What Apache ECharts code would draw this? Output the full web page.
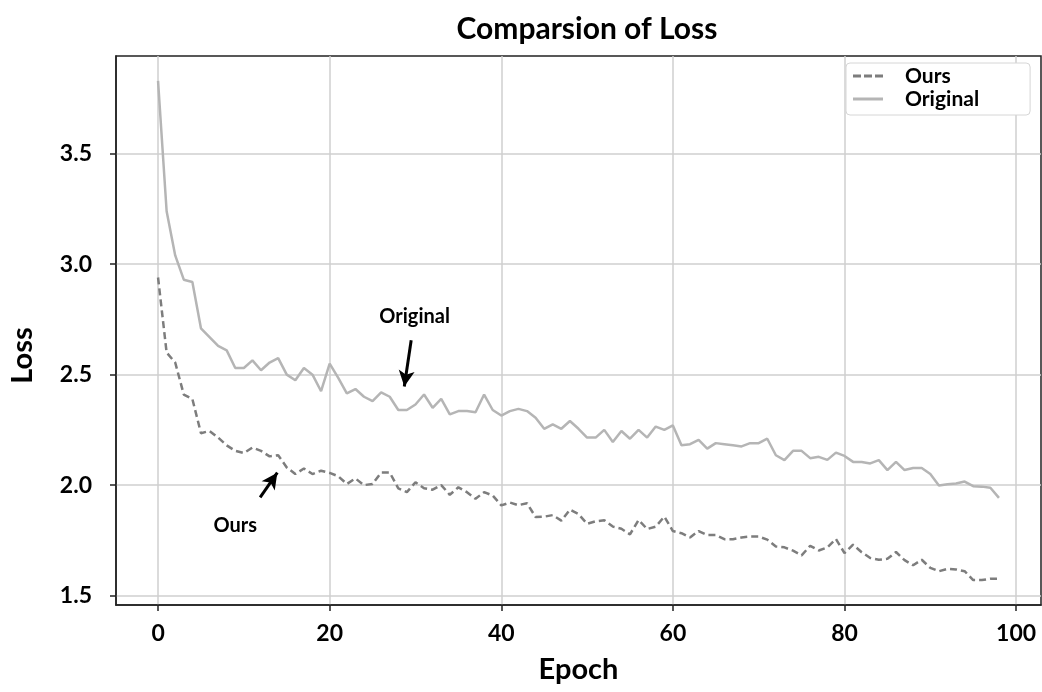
<!DOCTYPE html>
<html>
<head>
<meta charset="utf-8">
<title>Comparsion of Loss</title>
<script src="https://cdn.jsdelivr.net/npm/echarts@6/dist/echarts.min.js"></script>
<style>
html, body { margin: 0; padding: 0; background: #fff; }
#chart { width: 1042px; height: 692px; }
</style>
</head>
<body>
<div id="chart"></div>
<script>
// loss per epoch (0..98)
var ours = [
	2.94, 2.60, 2.555, 2.41, 2.39, 2.235, 2.245, 2.215, 2.18, 2.155,
	2.145, 2.17, 2.155, 2.13, 2.135, 2.08, 2.05, 2.075, 2.05, 2.065,
	2.055, 2.04, 2.005, 2.03, 2.0, 2.005, 2.057, 2.057, 1.985, 1.968,
	2.013, 1.986, 1.979, 2.0, 1.956, 1.99, 1.968, 1.938, 1.968, 1.953,
	1.908, 1.921, 1.909, 1.918, 1.855, 1.857, 1.864, 1.839, 1.889, 1.869,
	1.825, 1.836, 1.841, 1.812, 1.802, 1.777, 1.842, 1.801, 1.812, 1.857,
	1.792, 1.782, 1.763, 1.792, 1.774, 1.774, 1.755, 1.755, 1.763, 1.767,
	1.767, 1.753, 1.722, 1.718, 1.703, 1.682, 1.725, 1.704, 1.718, 1.756,
	1.692, 1.73, 1.696, 1.67, 1.662, 1.666, 1.697, 1.66, 1.637, 1.662,
	1.625, 1.61, 1.621, 1.618, 1.61, 1.57, 1.57, 1.576, 1.576
];
var original = [
	3.83, 3.24, 3.04, 2.93, 2.92, 2.71, 2.67, 2.63, 2.61, 2.53,
	2.53, 2.565, 2.52, 2.555, 2.575, 2.50, 2.475, 2.53, 2.50, 2.425,
	2.55, 2.485, 2.415, 2.435, 2.40, 2.38, 2.42, 2.40, 2.34, 2.34,
	2.365, 2.41, 2.35, 2.39, 2.32, 2.335, 2.335, 2.33, 2.41, 2.34,
	2.315, 2.335, 2.345, 2.335, 2.305, 2.255, 2.275, 2.255, 2.29, 2.255,
	2.215, 2.215, 2.25, 2.195, 2.245, 2.21, 2.25, 2.215, 2.265, 2.25,
	2.27, 2.18, 2.185, 2.205, 2.165, 2.19, 2.185, 2.18, 2.175, 2.19,
	2.19, 2.21, 2.135, 2.113, 2.155, 2.155, 2.122, 2.128, 2.114, 2.147,
	2.132, 2.105, 2.105, 2.098, 2.113, 2.068, 2.105, 2.068, 2.077, 2.077,
	2.05, 1.998, 2.004, 2.007, 2.016, 1.995, 1.993, 1.988, 1.942
];
var xTicks = [0, 20, 40, 60, 80, 100];
var yTicks = [1.5, 2.0, 2.5, 3.0, 3.5];

// annotation arrows, in data coordinates [epoch, loss]
var origArrow = [[29.5, 2.656], [28.7, 2.446]];
var oursArrow = [[11.9, 1.944], [13.9, 2.056]];
var origLabelAt = [29.9, 2.765];
var oursLabelAt = [9.0, 1.818];

var FONT = 'Lato, "Open Sans", sans-serif';
var OURS_COLOR = '#7d7d7d';
var ORIG_COLOR = '#b5b5b5';

// legend handles: dashed and solid strokes
var DASH_ICON = 'path://M0,0h8v3h-8zM11,0h8v3h-8zM22,0h8v3h-8z';
var SOLID_ICON = 'path://M0,0h30v3h-30z';

var chart = echarts.init(document.getElementById('chart'));

function pairs(arr) {
	return arr.map(function (v, i) { return [i, v]; });
}

function note(at, text) {
	return {
		coord: at,
		symbol: 'circle',
		symbolSize: 0,
		label: {
			show: true,
			position: 'inside',
			formatter: text,
			color: '#000',
			fontFamily: FONT,
			fontWeight: 'bold',
			fontSize: 20
		}
	};
}

function arrow(seg) {
	return [{ coord: seg[0] }, { coord: seg[1] }];
}

var option = {
	animation: false,
	backgroundColor: '#fff',
	title: {
		text: 'Comparsion of Loss',
		left: 582,
		textAlign: 'center',
		top: 9,
		textStyle: {
			fontFamily: FONT,
			fontWeight: 'bold',
			fontSize: 30,
			color: '#000'
		}
	},
	legend: {
		orient: 'vertical',
		left: 846,
		top: 63,
		padding: [2, 51, 5, 7],
		itemGap: 1,
		itemWidth: 30,
		itemHeight: 3,
		backgroundColor: '#fff',
		borderColor: '#d6d6d6',
		borderWidth: 1,
		borderRadius: 4,
		textStyle: {
			fontFamily: FONT,
			fontWeight: 'bold',
			fontSize: 21,
			lineHeight: 22,
			color: '#000',
			padding: [0, 0, 0, 17]
		},
		data: [
			{ name: 'Ours', icon: DASH_ICON },
			{ name: 'Original', icon: SOLID_ICON }
		]
	},
	grid: {
		left: 114,
		right: 1,
		top: 56,
		bottom: 87,
		show: true,
		borderColor: '#222',
		borderWidth: 1.5,
		backgroundColor: 'transparent'
	},
	xAxis: {
		type: 'value',
		min: -4.9,
		max: 102.9,
		name: 'Epoch',
		nameLocation: 'middle',
		nameGap: 50,
		nameTextStyle: {
			fontFamily: FONT,
			fontWeight: 'bold',
			fontSize: 29,
			color: '#000'
		},
		axisLine: { show: true, onZero: false, lineStyle: { color: '#222', width: 1.5 } },
		axisTick: { show: true, length: 6, customValues: xTicks, lineStyle: { color: '#222', width: 1.5 } },
		axisLabel: {
			customValues: xTicks,
			margin: 17,
			fontFamily: FONT,
			fontWeight: 'bold',
			fontSize: 23,
			color: '#000'
		},
		splitLine: { show: true, lineStyle: { color: '#cfcfcf', width: 1.5 } }
	},
	yAxis: {
		type: 'value',
		min: 1.457,
		max: 3.943,
		name: 'Loss',
		nameLocation: 'middle',
		nameGap: 79,
		nameTextStyle: {
			fontFamily: FONT,
			fontWeight: 'bold',
			fontSize: 29,
			color: '#000',
			padding: [0, 50, 0, 0]
		},
		axisLine: { show: true, onZero: false, lineStyle: { color: '#222', width: 1.5 } },
		axisTick: { show: true, length: 6, customValues: yTicks, lineStyle: { color: '#222', width: 1.5 } },
		axisLabel: {
			customValues: yTicks,
			margin: 24,
			fontFamily: FONT,
			fontWeight: 'bold',
			fontSize: 23,
			color: '#000',
			formatter: function (v) { return v.toFixed(1); }
		},
		splitLine: { show: true, lineStyle: { color: '#cfcfcf', width: 1.5 } }
	},
	series: [{
		name: 'Ours',
		type: 'line',
		symbol: 'none',
		data: pairs(ours),
		lineStyle: { color: OURS_COLOR, width: 2.5, type: [7, 4] },
		itemStyle: { color: OURS_COLOR },
		z: 3,
		markLine: {
			silent: true,
			symbol: ['none', 'arrow'],
			symbolSize: [12, 16],
			label: { show: false },
			lineStyle: { color: '#000', width: 3, type: 'solid' },
			data: [arrow(oursArrow)]
		},
		markPoint: {
			silent: true,
			data: [note(oursLabelAt, 'Ours')]
		}
	}, {
		name: 'Original',
		type: 'line',
		symbol: 'none',
		data: pairs(original),
		lineStyle: { color: ORIG_COLOR, width: 2.5 },
		itemStyle: { color: ORIG_COLOR },
		z: 2,
		markLine: {
			silent: true,
			symbol: ['none', 'arrow'],
			symbolSize: [12, 16],
			label: { show: false },
			lineStyle: { color: '#000', width: 3, type: 'solid' },
			data: [arrow(origArrow)]
		},
		markPoint: {
			silent: true,
			data: [note(origLabelAt, 'Original')]
		}
	}]
};

chart.setOption(option);
</script>
</body>
</html>
